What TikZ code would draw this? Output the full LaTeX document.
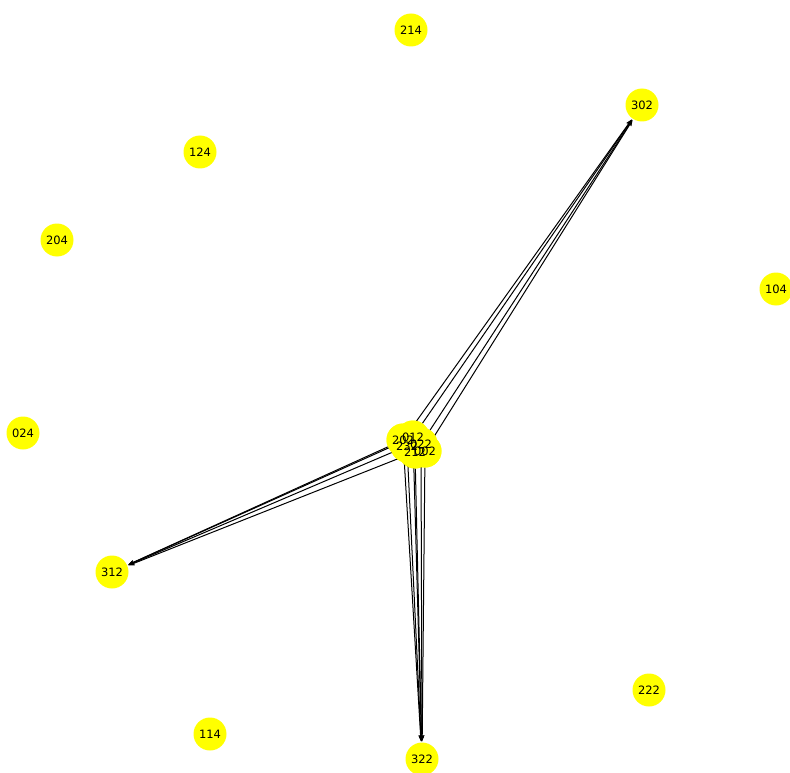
\documentclass[tikz,border=0pt]{standalone}
\usepackage{fontspec}
\setmainfont{DejaVu Sans}
\usetikzlibrary{arrows.meta}
\definecolor{ndyel}{RGB}{255,255,0}
\tikzset{
  nd/.style={circle,fill=ndyel,inner sep=0pt,minimum size=33pt,font=\fontsize{11.5}{12}\selectfont},
  lb/.style={font=\fontsize{11.5}{12}\selectfont,inner sep=0pt},
  ed/.style={draw=black,line width=1pt,-{Stealth[length=6pt,width=4.5pt]},shorten >=1pt}
}
\begin{document}
\begin{tikzpicture}[x=1pt,y=-1pt]
\useasboundingbox (0,0) rectangle (790,773);
% outer nodes
\node[nd] (n214) at (411,30) {214};
\node[nd] (n302) at (642,105) {302};
\node[nd] (n124) at (200,152) {124};
\node[nd] (n204) at (57,240) {204};
\node[nd] (n104) at (776,289) {104};
\node[nd] (n024) at (23,433) {024};
\node[nd] (n312) at (112,572) {312};
\node[nd] (n114) at (210,734) {114};
\node[nd] (n322) at (422,759) {322};
\node[nd] (n222) at (649,690) {222};
% cluster nodes
\node[nd] (c1) at (403,440) {};
\node[nd] (c2) at (413,437) {};
\node[nd] (c3) at (407,446) {};
\node[nd] (c4) at (421,444) {};
\node[nd] (c5) at (415,452) {};
\node[nd] (c6) at (425,451) {};
% edges
\foreach \s in {c1,c2,c4,c6} \draw[ed] (\s) -- (n302);
\foreach \s in {c1,c3,c5,c2} \draw[ed] (\s) -- (n312);
\foreach \s in {c1,c2,c3,c4,c5,c6} \draw[ed] (\s) -- (n322);
% redraw cluster fill and labels on top
\foreach \s in {c1,c2,c3,c4,c5,c6}
  \node[nd] at (\s) {};
\foreach \s/\t in {c1/202,c2/012,c3/232,c4/022,c5/212,c6/002}
  \node[lb] at (\s) {\t};
\end{tikzpicture}
\end{document}
